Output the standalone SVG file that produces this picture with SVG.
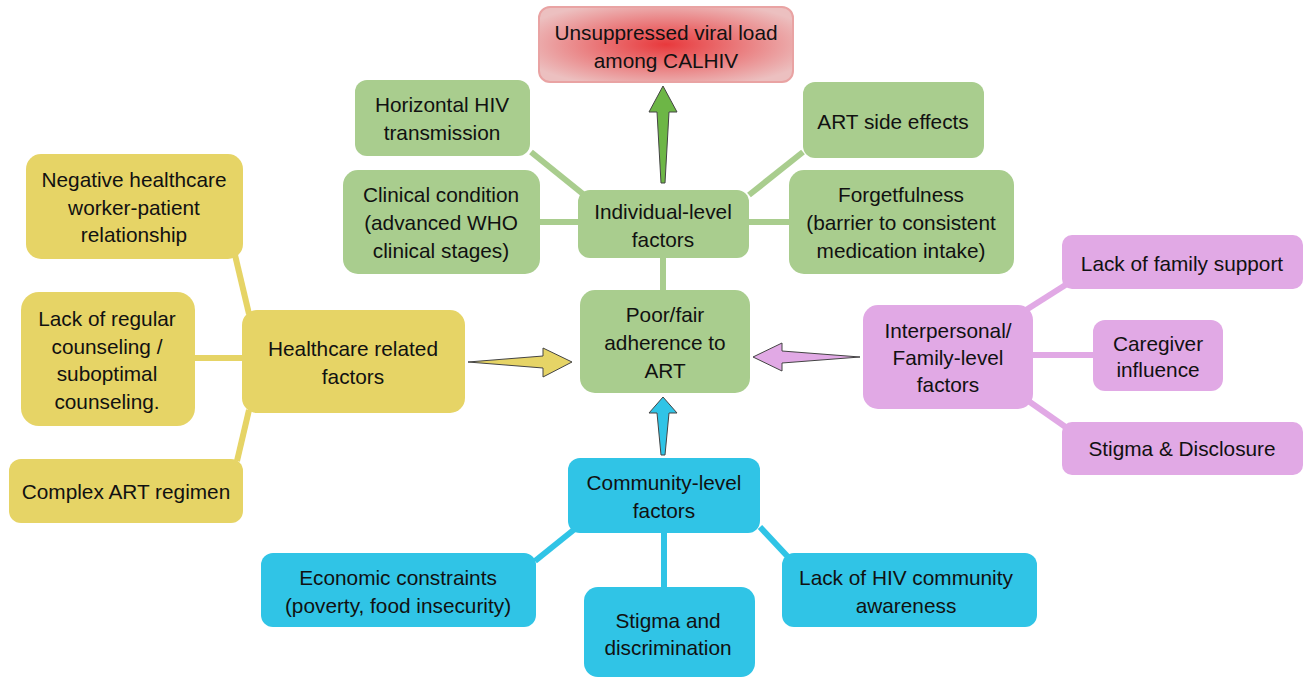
<svg xmlns="http://www.w3.org/2000/svg" width="1311" height="677" viewBox="0 0 1311 677">
<defs>
<radialGradient id="redg" cx="0.5" cy="0.5" r="0.6">
<stop offset="0" stop-color="#e8393c"/>
<stop offset="1" stop-color="#ecc0c0"/>
</radialGradient>
<style>
text{font-family:"Liberation Sans",Arial,sans-serif;font-size:20.8px;fill:#111;text-anchor:middle;dominant-baseline:central}
.g{fill:#a9cd8e}.y{fill:#e6d466}.p{fill:#e1a9e5}.c{fill:#30c4e6}
.lg{stroke:#a9cd8e}.ly{stroke:#e6d466}.lp{stroke:#e1a9e5}.lc{stroke:#30c4e6}
.ln{stroke-width:6;fill:none}
.ar{stroke:#444;stroke-width:1;stroke-linejoin:miter}
</style>
</defs>
<rect width="1311" height="677" fill="#fff"/>
<g id="connectors">
<line class="ln lg" x1="531" y1="152" x2="583" y2="194"/>
<line class="ln lg" x1="540" y1="222" x2="580" y2="222"/>
<line class="ln lg" x1="803" y1="152" x2="749" y2="195"/>
<line class="ln lg" x1="749" y1="222" x2="790" y2="222"/>
<line class="ln lg" x1="663" y1="256" x2="663" y2="292"/>
<line class="ln ly" x1="235" y1="255" x2="249" y2="314"/>
<line class="ln ly" x1="194" y1="358" x2="244" y2="358"/>
<line class="ln ly" x1="249" y1="410" x2="237" y2="461"/>
<line class="ln lp" x1="1026" y1="310" x2="1067" y2="284"/>
<line class="ln lp" x1="1031" y1="355" x2="1094" y2="355"/>
<line class="ln lp" x1="1027" y1="400" x2="1067" y2="428"/>
<line class="ln lc" x1="576" y1="528" x2="535" y2="561"/>
<line class="ln lc" x1="664" y1="530" x2="664" y2="589"/>
<line class="ln lc" x1="760" y1="527" x2="789" y2="558"/>
<polygon class="ar" fill="#6db646" points="661,183 657,112 649,112 663,86 677,112 669,112 665,183"/>
<polygon class="ar" fill="#e6d466" points="468,362 543,356 543,348 572,362 543,377 543,368"/>
<polygon class="ar" fill="#e1a9e5" points="860,357 782,351 782,343 753,357 782,371 782,363"/>
<polygon class="ar" fill="#30c4e6" points="661,455 657,413 649,413 663,397 677,413 669,413 665,455"/>
</g>
<g id="outcome">
<rect x="539" y="7" width="254" height="75" rx="11" fill="url(#redg)" stroke="#e9a3a3" stroke-width="2"/>
<text x="666" y="32">Unsuppressed viral load</text>
<text x="666" y="60">among CALHIV</text>
</g>
<g id="individual">
<rect class="g" x="578" y="190" width="171" height="68" rx="12"/>
<text x="663" y="211">Individual-level</text>
<text x="663" y="239">factors</text>
</g>
<g id="horizontal">
<rect class="g" x="355" y="80" width="175" height="76" rx="12"/>
<text x="442" y="104">Horizontal HIV</text>
<text x="442" y="132">transmission</text>
</g>
<g id="sideeffects">
<rect class="g" x="803" y="82" width="181" height="76" rx="12"/>
<text x="893" y="121">ART side effects</text>
</g>
<g id="clinical">
<rect class="g" x="343" y="170" width="197" height="104" rx="15"/>
<text x="441" y="194">Clinical condition</text>
<text x="441" y="222">(advanced WHO</text>
<text x="441" y="250">clinical stages)</text>
</g>
<g id="forgetfulness">
<rect class="g" x="789" y="170" width="225" height="104" rx="15"/>
<text x="901" y="194">Forgetfulness</text>
<text x="901" y="222">(barrier to consistent</text>
<text x="901" y="250">medication intake)</text>
</g>
<g id="adherence">
<rect class="g" x="580" y="290" width="170" height="103" rx="15"/>
<text x="665" y="314">Poor/fair</text>
<text x="665" y="342">adherence to</text>
<text x="665" y="370">ART</text>
</g>
<g id="healthcare">
<rect class="y" x="242" y="310" width="223" height="103" rx="15"/>
<text x="353" y="348">Healthcare related</text>
<text x="353" y="376">factors</text>
</g>
<g id="negative">
<rect class="y" x="26" y="154" width="217" height="105" rx="15"/>
<text x="134" y="179">Negative healthcare</text>
<text x="134" y="207">worker-patient</text>
<text x="134" y="234">relationship</text>
</g>
<g id="counseling">
<rect class="y" x="21" y="292" width="174" height="134" rx="18"/>
<text x="107" y="318">Lack of regular</text>
<text x="107" y="346">counseling /</text>
<text x="107" y="373">suboptimal</text>
<text x="107" y="401">counseling.</text>
</g>
<g id="complex">
<rect class="y" x="9" y="459" width="234" height="64" rx="12"/>
<text x="126" y="491">Complex ART regimen</text>
</g>
<g id="interpersonal">
<rect class="p" x="863" y="305" width="170" height="104" rx="15"/>
<text x="948" y="330">Interpersonal/</text>
<text x="948" y="357">Family-level</text>
<text x="948" y="384">factors</text>
</g>
<g id="familysupport">
<rect class="p" x="1062" y="235" width="241" height="54" rx="10"/>
<text x="1182" y="263">Lack of family support</text>
</g>
<g id="caregiver">
<rect class="p" x="1093" y="320" width="130" height="71" rx="12"/>
<text x="1158" y="343">Caregiver</text>
<text x="1158" y="369">influence</text>
</g>
<g id="stigmadisclosure">
<rect class="p" x="1062" y="422" width="241" height="53" rx="10"/>
<text x="1182" y="448">Stigma &amp; Disclosure</text>
</g>
<g id="community">
<rect class="c" x="568" y="458" width="192" height="75" rx="12"/>
<text x="664" y="482">Community-level</text>
<text x="664" y="510">factors</text>
</g>
<g id="economic">
<rect class="c" x="261" y="553" width="275" height="74" rx="12"/>
<text x="398" y="577">Economic constraints</text>
<text x="398" y="605">(poverty, food insecurity)</text>
</g>
<g id="stigmadiscrimination">
<rect class="c" x="584" y="587" width="171" height="90" rx="14"/>
<text x="668" y="620">Stigma and</text>
<text x="668" y="647">discrimination</text>
</g>
<g id="awareness">
<rect class="c" x="782" y="553" width="255" height="74" rx="12"/>
<text x="906" y="577">Lack of HIV community</text>
<text x="906" y="605">awareness</text>
</g>
</svg>
